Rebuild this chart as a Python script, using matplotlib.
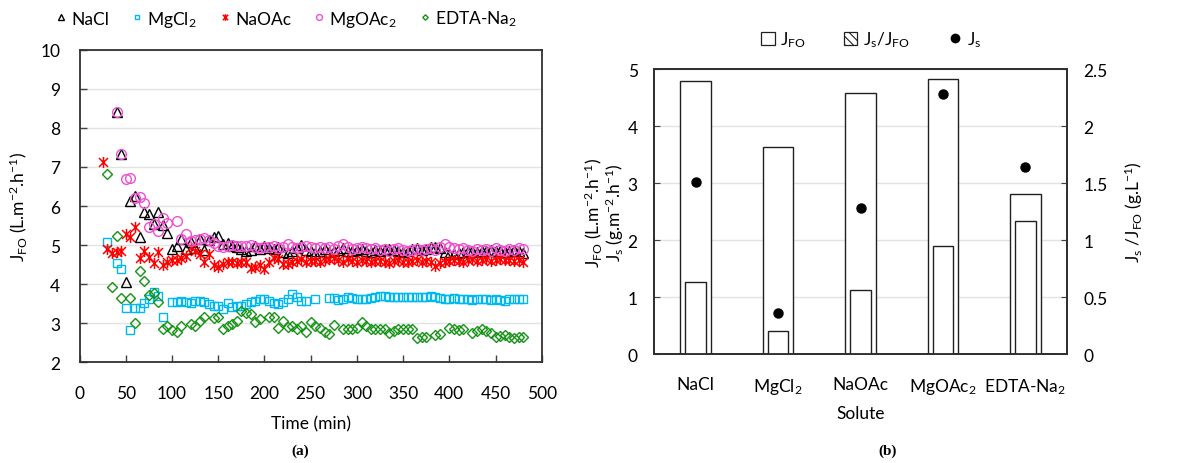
import matplotlib
matplotlib.use("Agg")
import matplotlib.pyplot as plt
import numpy as np
from matplotlib.lines import Line2D
from matplotlib.patches import Patch
from matplotlib.path import Path

plt.rcParams['font.family'] = ['Lato', 'DejaVu Sans']
plt.rcParams['mathtext.fontset'] = 'custom'
plt.rcParams['mathtext.rm'] = 'Lato'
plt.rcParams['mathtext.it'] = 'Lato:italic'
plt.rcParams['mathtext.bf'] = 'Lato:bold'
plt.rcParams['mathtext.default'] = 'rm'
plt.rcParams['hatch.linewidth'] = 0.8

# ---------------- (a) water flux over time ----------------
time_min = [25, 30, 35, 40, 45, 50, 55, 60, 65, 70,
            75, 80, 85, 90, 95, 100, 105, 110, 115, 120,
            125, 130, 135, 140, 145, 150, 155, 160, 165, 170,
            175, 180, 185, 190, 195, 200, 205, 210, 215, 220,
            225, 230, 235, 240, 245, 250, 255, 260, 265, 270,
            275, 280, 285, 290, 295, 300, 305, 310, 315, 320,
            325, 330, 335, 340, 345, 350, 355, 360, 365, 370,
            375, 380, 385, 390, 395, 400, 405, 410, 415, 420,
            425, 430, 435, 440, 445, 450, 455, 460, 465, 470,
            475, 480]

jfo_nacl = [None, None, None, 8.40, 7.33, 4.05, 6.14, 6.27, 5.20, 5.84,
            5.80, 5.54, 5.86, 5.52, 5.31, 4.90, 4.99, 5.16, 4.89, 5.07,
            4.93, 5.15, 4.88, 5.12, 5.20, 5.24, 5.02, 5.06, 4.98, 4.95,
            4.90, 4.85, 4.88, 4.98, 4.91, 4.98, 4.93, 4.90, 4.94, 4.82,
            4.81, 4.86, 4.92, 5.00, 4.88, 4.84, 4.81, 4.86, 4.90, 4.83,
            4.85, 4.88, 4.92, 4.86, 4.84, 4.88, 4.90, 4.86, 4.83, 4.87,
            4.84, 4.88, 4.91, 4.87, 4.85, 4.82, 4.86, 4.89, 4.92, 4.88,
            4.91, 4.95, 4.96, 4.93, 4.82, 4.78, 4.76, 4.80, 4.82, 4.84,
            4.84, 4.82, 4.86, 4.85, 4.88, 4.84, 4.86, 4.83, 4.85, 4.87,
            4.84, 4.81]

jfo_mgcl2 = [None, 5.07, None, 4.54, 4.39, 3.38, 2.83, 3.38, 3.39, 3.52,
             3.61, 3.79, 3.71, 3.15, None, 3.54, 3.55, 3.56, 3.54, 3.52,
             3.56, 3.58, 3.54, 3.49, 3.45, 3.43, 3.37, 3.52, 3.41, 3.43,
             3.45, 3.48, 3.54, 3.58, 3.62, 3.62, 3.56, 3.52, 3.49, 3.55,
             3.62, 3.75, 3.67, 3.58, 3.57, None, 3.62, None, None, 3.64,
             3.64, 3.60, 3.62, 3.66, 3.64, 3.62, 3.63, 3.62, 3.64, 3.66,
             3.71, 3.69, 3.68, 3.67, 3.68, 3.67, 3.66, 3.67, 3.68, 3.66,
             3.66, 3.71, 3.66, 3.64, 3.63, 3.62, 3.64, 3.62, 3.61, 3.63,
             3.60, 3.62, 3.63, 3.61, 3.60, 3.62, 3.59, 3.58, 3.61, 3.62,
             3.61, 3.62]

jfo_naoac = [7.14, 4.89, 4.80, 4.83, 4.84, 5.29, 5.20, 5.47, 4.66, 4.86,
             4.69, 4.54, 4.82, 4.48, 4.58, 4.61, 4.62, 4.66, 4.73, 4.95,
             4.86, 4.77, 4.58, 4.77, 4.48, 4.43, 4.52, 4.56, 4.56, 4.54,
             4.56, 4.56, 4.41, 4.43, 4.48, 4.39, 4.56, 4.66, 4.65, 4.52,
             4.52, 4.58, 4.60, 4.65, 4.58, 4.60, 4.60, 4.58, 4.62, 4.64,
             4.66, 4.62, 4.58, 4.64, 4.60, 4.57, 4.62, 4.60, 4.56, 4.59,
             4.60, 4.58, 4.55, 4.60, 4.62, 4.58, 4.56, 4.60, 4.62, 4.58,
             4.60, 4.56, 4.47, 4.55, 4.58, 4.60, 4.62, 4.60, 4.58, 4.62,
             4.64, 4.60, 4.62, 4.65, 4.60, 4.62, 4.64, 4.61, 4.63, 4.60,
             4.62, 4.58]

jfo_mgoac2 = [None, None, None, 8.40, 7.33, 6.68, 6.71, 6.20, 6.22, 6.07,
              5.46, 5.55, 5.35, 5.69, 5.57, None, 5.63, 5.16, 5.29, 5.10,
              5.12, 5.15, 5.18, 5.12, 5.05, 4.99, 4.95, 4.97, 5.00, 4.97,
              4.99, 4.97, 5.00, 4.95, 4.93, 4.96, 4.94, 4.97, 4.92, 4.95,
              5.02, 4.96, 4.93, 4.95, 4.97, 4.94, 4.92, 4.95, 4.93, 4.96,
              4.91, 4.97, 5.02, 4.94, 4.90, 4.93, 4.95, 4.92, 4.90, 4.93,
              4.88, 4.90, 4.86, 4.89, 4.92, 4.88, 4.85, 4.88, 4.90, 4.87,
              4.89, 4.92, 4.88, 4.95, 5.02, 4.96, 4.93, 4.90, 4.92, 4.88,
              4.86, 4.89, 4.87, 4.90, 4.85, 4.92, 4.88, 4.86, 4.90, 4.87,
              4.92, 4.89]

jfo_edta = [None, 6.82, 3.94, 5.24, 3.64, None, 3.64, 3.00, 4.35, 4.09,
            3.73, 3.78, 3.54, 2.85, 2.94, 2.83, 2.77, 2.94, None, 2.98,
            2.94, 3.07, 3.15, None, 3.13, 3.15, 2.85, 2.94, 2.97, 3.07,
            3.32, 3.26, 3.24, 3.02, 3.11, None, 3.15, 3.15, 2.87, 3.07,
            2.90, 2.94, 2.85, 2.94, 2.78, 3.02, 2.94, 2.87, 2.77, 2.72,
            2.95, None, 2.85, 2.85, 2.85, 2.88, 3.02, 2.93, 2.85, 2.86,
            2.86, 2.85, 2.76, 2.80, 2.85, 2.85, 2.86, 2.86, 2.63, 2.66,
            2.66, None, 2.69, 2.72, None, 2.89, 2.85, 2.83, 2.85, None,
            2.76, 2.80, 2.85, 2.80, 2.76, 2.66, 2.68, 2.69, 2.66, 2.63,
            2.66, 2.64]

# ---------------- (b) average fluxes per draw solute ----------------
solutes = ['NaCl', 'MgCl$_2$', 'NaOAc', 'MgOAc$_2$', 'EDTA-Na$_2$']
jfo_avg = [4.79, 3.64, 4.58, 4.82, 2.81]
js_avg = [3.01, 0.72, 2.57, 4.57, 3.28]
js_over_jfo = [0.63, 0.20, 0.56, 0.95, 1.17]


def arr(v):
    return np.array([np.nan if x is None else x for x in v], dtype=float)


# Excel-style star: an "x" crossed by a vertical stroke
star_marker = Path([(-0.5, -0.5), (0.5, 0.5), (-0.5, 0.5), (0.5, -0.5),
                    (0, -0.62), (0, 0.62)],
                   [Path.MOVETO, Path.LINETO] * 3)

fig = plt.figure(figsize=(11.98, 4.64), dpi=100)

ax1 = fig.add_axes([0.0665, 0.217, 0.3857, 0.6735])
t = np.array(time_min)
styles = [
    ('NaCl', jfo_nacl, dict(marker='^', ms=7.2, mfc='none', mec='black', mew=1.0)),
    ('MgCl$_2$', jfo_mgcl2, dict(marker='s', ms=6.0, mfc='none', mec='#00B8F0', mew=1.0)),
    ('NaOAc', jfo_naoac, dict(marker=star_marker, ms=8.0, mfc='none', mec='#FF0000', mew=1.1)),
    ('MgOAc$_2$', jfo_mgoac2, dict(marker='o', ms=7.0, mfc='none', mec='#F050D0', mew=1.0)),
    ('EDTA-Na$_2$', jfo_edta, dict(marker='D', ms=4.6, mfc='none', mec='#149414', mew=1.0)),
]
handles = []
for name, vals, st in styles:
    ax1.plot(t, arr(vals), linestyle='none', **st)
    st_leg = dict(st)
    st_leg['ms'] = st['ms'] * 0.6
    handles.append(Line2D([], [], linestyle='none', label=name, **st_leg))

ax1.set_xlim(0, 500)
ax1.set_ylim(2, 10)
ax1.set_xticks(np.arange(0, 501, 50))
ax1.set_yticks(np.arange(2, 11, 1))
ax1.grid(axis='y', color='#e3e3e3', linewidth=1.0)
ax1.set_axisbelow(True)
ax1.tick_params(axis='both', direction='in', length=5, width=1.0, labelsize=12.5,
                color='#404040')
ax1.tick_params(axis='x', pad=16)
ax1.tick_params(axis='y', pad=14)
for sp in ax1.spines.values():
    sp.set_color('#303030')
    sp.set_linewidth(1.3)
ax1.set_xlabel('Time (min)', fontsize=12.5)
ax1.xaxis.set_label_coords(0.5, -0.17)
ax1.set_ylabel('J$_{FO}$ (L.m$^{-2}$.h$^{-1}$)', fontsize=12.5)
ax1.yaxis.set_label_coords(-0.11, 0.5)
ax1.legend(handles=handles, loc='center', bbox_to_anchor=(0.447, 1.10), ncol=5,
           frameon=False, fontsize=12.5, handlelength=0.7, handletextpad=0.25,
           columnspacing=1.25, borderpad=0)

# ---------------- panel (b) ----------------
ax2 = fig.add_axes([0.5462, 0.2349, 0.3442, 0.6142])
ax3 = ax2.twinx()
x = np.arange(len(solutes))
ax2.bar(x, jfo_avg, width=0.37, color='white', edgecolor='#202020', linewidth=1.0, zorder=2)
ax3.bar(x, js_over_jfo, width=0.25, color='white', edgecolor='#202020', linewidth=1.0, zorder=2)
ax2.plot(x, js_avg, linestyle='none', marker='o', ms=6.5, color='black', zorder=4)

ax2.set_xlim(-0.5, len(solutes) - 0.5)
ax2.set_ylim(0, 5)
ax3.set_ylim(0, 2.5)
ax2.set_yticks(np.arange(0, 6, 1))
ax3.set_yticks([0, 0.5, 1, 1.5, 2, 2.5])
ax3.set_yticklabels(['0', '0.5', '1', '1.5', '2', '2.5'])
ax2.set_xticks(x)
ax2.set_xticklabels(solutes)
ax2.grid(axis='y', color='#e3e3e3', linewidth=1.0)
ax2.set_axisbelow(True)
ax2.tick_params(axis='x', length=0, pad=16, labelsize=12.5)
ax2.tick_params(axis='y', direction='in', length=4, labelsize=12.5, pad=12, color='#404040')
ax3.tick_params(axis='y', direction='in', length=4, labelsize=12.5, pad=12, color='#404040')
for a in (ax2, ax3):
    for sp in a.spines.values():
        sp.set_color('#303030')
        sp.set_linewidth(1.3)
ax2.set_xlabel('Solute', fontsize=12.5)
ax2.xaxis.set_label_coords(0.5, -0.18)
ax2.set_ylabel('J$_{FO}$ (L.m$^{-2}$.h$^{-1}$)\nJ$_s$ (g.m$^{-2}$.h$^{-1}$)', fontsize=12.5,
               linespacing=1.0)
ax2.yaxis.set_label_coords(-0.068, 0.5)
ax3.set_ylabel('J$_s$ /J$_{FO}$ (g.L$^{-1}$)', fontsize=12.5)
ax3.yaxis.set_label_coords(1.135, 0.5)

leg_handles = [
    Patch(facecolor='white', edgecolor='#202020', linewidth=0.9, label='J$_{FO}$'),
    Patch(facecolor='white', edgecolor='#202020', linewidth=0.9, hatch='\\\\\\\\',
          label='J$_s$/J$_{FO}$'),
    Line2D([], [], linestyle='none', marker='o', ms=6, color='black', label='J$_s$'),
]
ax2.legend(handles=leg_handles, loc='center', bbox_to_anchor=(0.525, 1.105), ncol=3,
           frameon=False, fontsize=12.5, handlelength=0.8, handleheight=0.8,
           handletextpad=0.3, columnspacing=2.2, borderpad=0)

fig.text(300 / 1198, 1 - 451 / 464, '(a)', fontsize=11, fontweight='bold',
         family='Liberation Serif', ha='center', va='center')
fig.text(888 / 1198, 1 - 451 / 464, '(b)', fontsize=11, fontweight='bold',
         family='Liberation Serif', ha='center', va='center')

fig.savefig('out.png', dpi=100)
